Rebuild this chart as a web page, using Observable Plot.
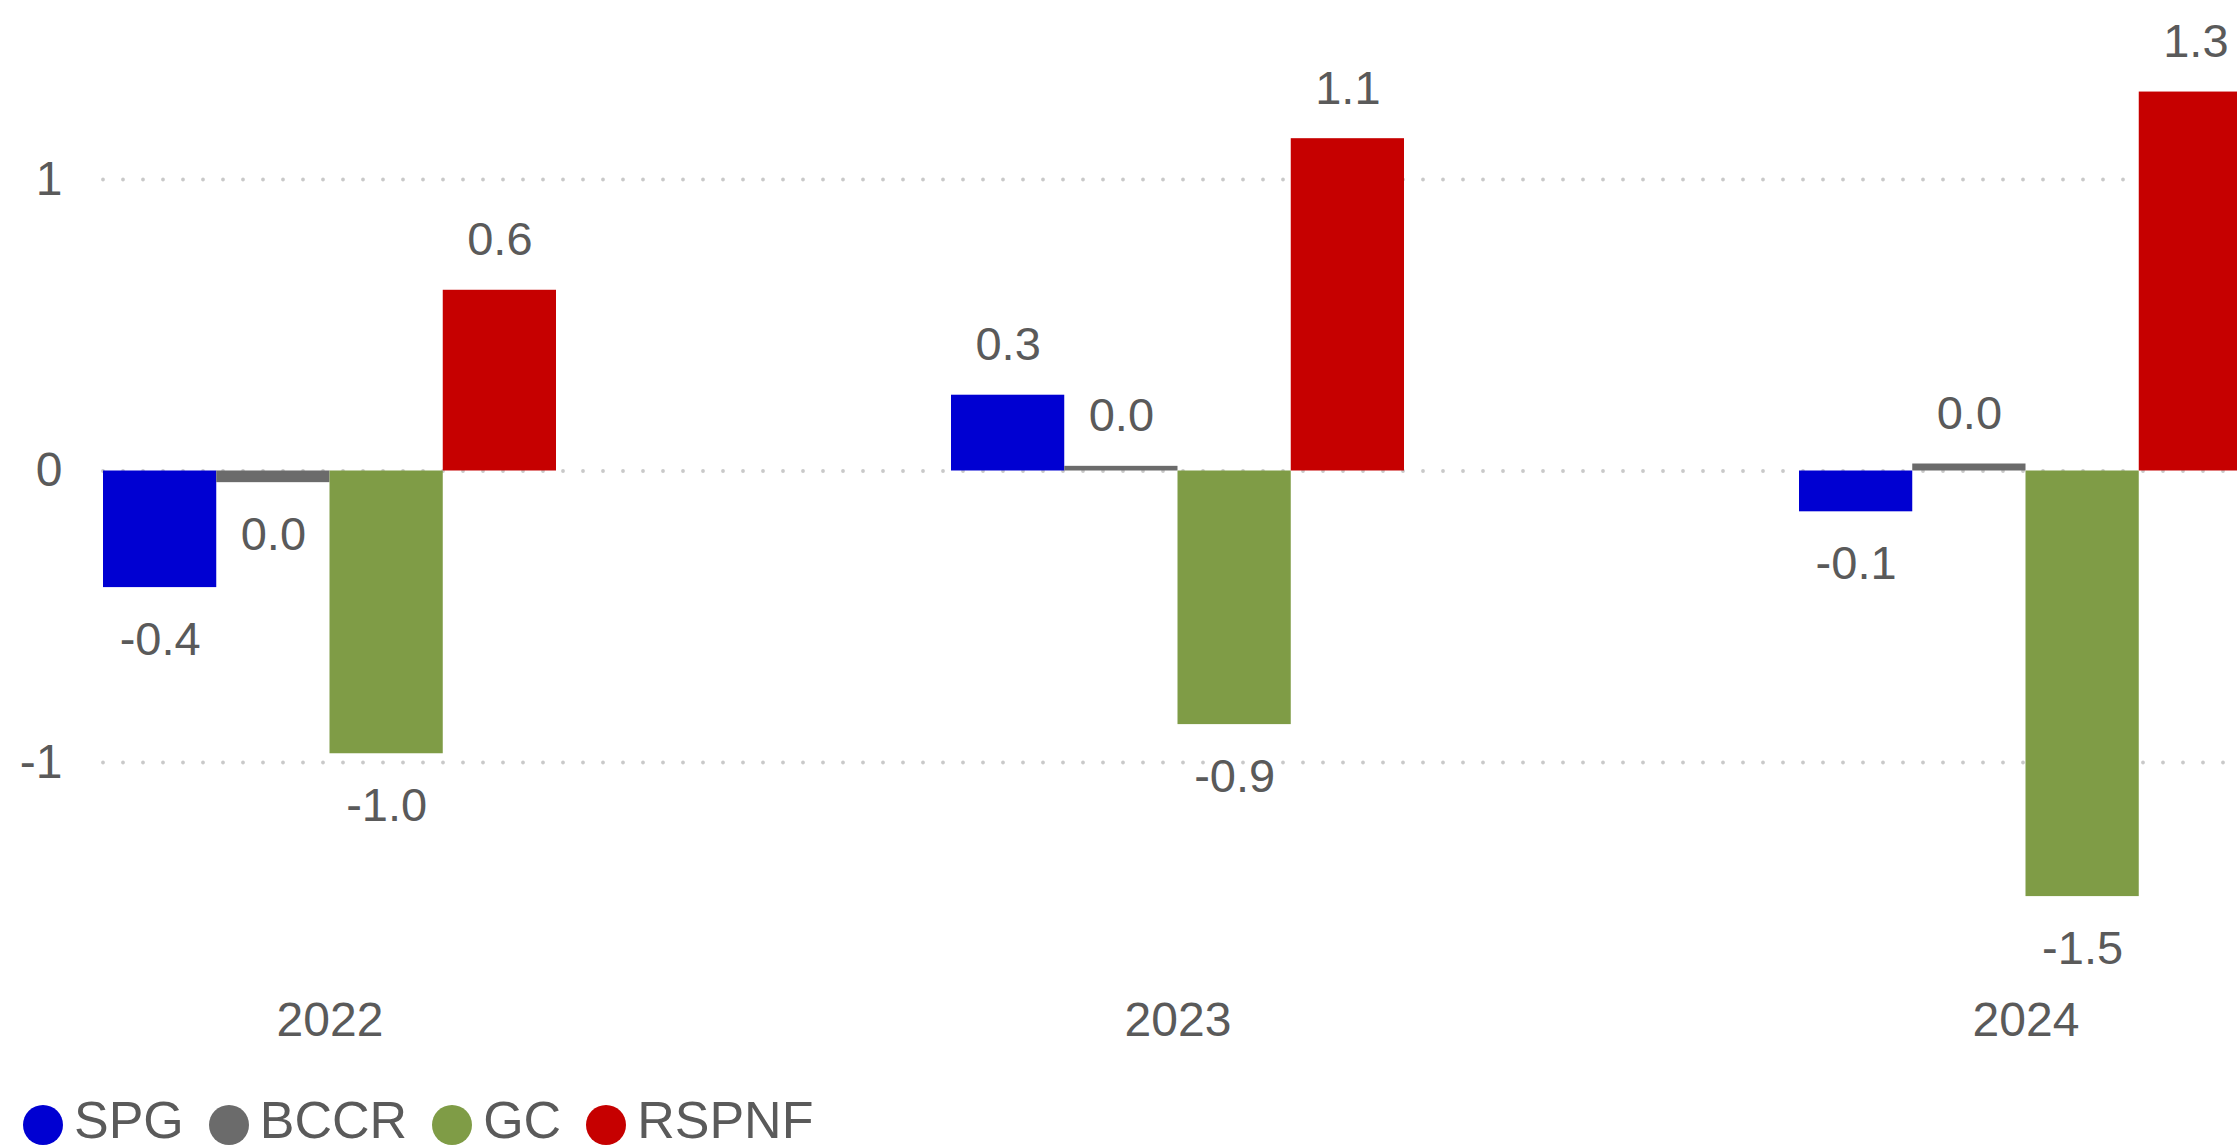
<!DOCTYPE html>
<html>
<head>
<meta charset="utf-8">
<script src="https://cdn.jsdelivr.net/npm/d3@7"></script>
<script src="https://cdn.jsdelivr.net/npm/@observablehq/plot@0.6"></script>
<style>
  html, body { margin: 0; padding: 0; background: #fff; overflow: hidden; width: 2237px; height: 1145px; }
  #chart svg { display: block; max-width: none; }
  .legend { display: flex; align-items: center; height: 70px; padding-left: 23px;
            font-family: "Liberation Sans", Arial, sans-serif; font-size: 52px; color: #5a5a5a; }
  .legend .item { display: flex; align-items: center; margin-right: 25px; }
  .legend .sw { width: 40px; height: 40px; border-radius: 50%; margin-right: 11px; position: relative; top: 5px; }
</style>
</head>
<body>
<div id="chart"></div>
<div class="legend" id="legend"></div>
<script>
const years = ["2022", "2023", "2024"];
const seriesNames = ["SPG", "BCCR", "GC", "RSPNF"];
const spg   = [-0.40, 0.26, -0.14];
const bccr  = [-0.04, 0.016, 0.024];
const gc    = [-0.97, -0.87, -1.46];
const rspnf = [0.62, 1.14, 1.30];
const colors = ["#0000d2", "#6b6b6b", "#7f9c46", "#c60000"];
const yTicks = [-1, 0, 1];

const seriesValues = [spg, bccr, gc, rspnf];
const data = years.flatMap((year, j) =>
  seriesNames.map((series, i) => ({year, series, i, value: seriesValues[i][j]})));

const fmt = v => {
  const s = v.toFixed(1);
  return s === "-0.0" ? "0.0" : s;
};

const W = 2237, H = 1085, ML = 103;
const xRange = [ML, 2252];
const padIn = 0.4658;
const band = d3.scaleBand().domain(years).range(xRange).paddingInner(padIn).paddingOuter(0);
const sub = band.bandwidth() / seriesNames.length;

const marks = [
  Plot.ruleY(yTicks, {stroke: "#c9c9c9", strokeWidth: 3.8, strokeDasharray: "0 20", strokeLinecap: "round"}),
];
seriesNames.forEach((s, i) => {
  const rows = data.filter(d => d.i === i);
  marks.push(Plot.barY(rows, {
    x: "year", y: "value", fill: colors[i],
    insetLeft: i * sub, insetRight: (seriesNames.length - 1 - i) * sub
  }));
});
seriesNames.forEach((s, i) => {
  const dx = (i - (seriesNames.length - 1) / 2) * sub;
  marks.push(Plot.text(data.filter(d => d.i === i && d.value >= 0), {
    x: "year", y: "value", text: d => fmt(d.value), dx, dy: -50,
    lineAnchor: "middle", fontSize: 47, fill: "#5a5a5a"
  }));
  marks.push(Plot.text(data.filter(d => d.i === i && d.value < 0), {
    x: "year", y: "value", text: d => fmt(d.value), dx, dy: 52,
    lineAnchor: "middle", fontSize: 47, fill: "#5a5a5a"
  }));
});
marks.push(Plot.axisY({ticks: yTicks, tickSize: 0, tickPadding: 41, fontSize: 48, label: null, fill: "#5a5a5a", tickFormat: d => String(d)}));
marks.push(Plot.axisX({tickSize: 0, tickPadding: 1, fontSize: 48, label: null, fill: "#5a5a5a"}));

const chart = Plot.plot({
  width: W,
  height: H,
  marginLeft: ML,
  marginRight: 0,
  marginTop: 0,
  marginBottom: 85,
  style: {fontFamily: "'Liberation Sans', Arial, sans-serif", fontSize: "48px", color: "#5a5a5a", background: "#fff", overflow: "hidden"},
  x: {domain: years, range: xRange, paddingInner: padIn, paddingOuter: 0, round: false},
  y: {domain: [-1, 1], range: [762, 179]},
  marks
});
document.getElementById("chart").appendChild(chart);

const legend = document.getElementById("legend");
seriesNames.forEach((s, i) => {
  const item = document.createElement("div");
  item.className = "item";
  const sw = document.createElement("span");
  sw.className = "sw";
  sw.style.background = colors[i];
  const t = document.createElement("span");
  t.textContent = s;
  item.appendChild(sw);
  item.appendChild(t);
  legend.appendChild(item);
});
</script>
</body>
</html>
